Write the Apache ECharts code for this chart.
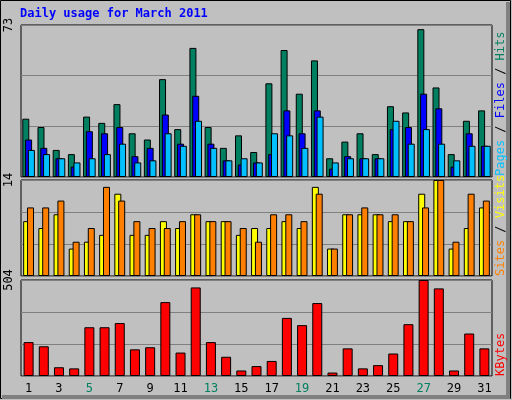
<!DOCTYPE html>
<html><head><meta charset="utf-8">
<script src="https://cdn.jsdelivr.net/npm/echarts@6/dist/echarts.min.js"></script>
<style>html,body{margin:0;padding:0;background:#c0c0c0}#c{width:512px;height:400px}</style>
</head><body><div id="c"></div>
<script>
const titleText = "Daily usage for March 2011";
const days = ["1","2","3","4","5","6","7","8","9","10","11","12","13","14","15","16","17","18","19","20","21","22","23","24","25","26","27","28","29","30","31"];
const weekendDays = ["5","6","12","13","19","20","26","27"];
const hits  = [28,24,13,11,29,26,35,21,18,47,23,62,24,14,20,12,45,61,40,56,9,17,21,11,34,31,71,43,11,27,32];
const files = [18,14,9,5,22,21,24,10,14,30,16,39,16,8,6,7,11,32,21,32,4,10,9,9,23,24,40,33,5,21,15];
const pages = [13,11,9,7,9,11,16,7,8,21,15,27,14,8,9,7,21,20,14,29,7,9,9,9,27,16,23,16,8,15,15];
const sites = [8,7,9,4,5,6,12,6,6,8,7,9,8,8,6,7,7,8,7,13,4,9,9,9,8,8,12,14,4,7,10];
const visits= [10,10,11,5,7,13,11,8,7,7,8,9,8,8,7,5,9,9,8,12,4,9,10,9,9,8,10,14,5,12,11];
const kbytes= [178,156,46,40,256,256,278,140,151,388,123,465,178,101,29,52,79,305,267,383,18,145,40,57,118,272,504,460,29,223,145];
const topMax = 73, midMax = 14, botMax = 504;

const C = {hits:'#008060',files:'#0000ff',pages:'#00c0ff',sites:'#ffff00',visits:'#ff8000',kb:'#ff0000'};
const mono = "DejaVu Sans Mono";
const ch = echarts.init(document.getElementById('c'));
const grids = [
  {left:21,right:20,top:25,height:152},
  {left:21,right:20,top:180,height:96},
  {left:21,right:20,top:280,height:96}
].map(g=>Object.assign(g,{show:true,backgroundColor:'#c0c0c0',borderColor:'#000',borderWidth:1}));
function xa(i,show){return {type:'category',gridIndex:i,data:days,axisTick:{show:false},axisLine:{show:false},
  axisLabel:{show:show,fontFamily:mono,fontSize:12,margin:7,
    color:v=>weekendDays.includes(v)?'#008060':'#000'}};}
function ya(i,max){return {type:'value',gridIndex:i,min:0,max:max,interval:max/3,
  axisLine:{show:false},axisTick:{show:false},
  splitLine:{lineStyle:{color:'#808080',width:1}},
  axisLabel:{fontFamily:mono,fontSize:12,rotate:90,margin:6,color:'#000',
    formatter:v=>Math.abs(v-max)<1e-6?String(max):''}};}
const bs = {borderColor:'#000',borderWidth:1};
function bar(name,data,i,color,w,gap){return {name,type:'bar',xAxisIndex:i,yAxisIndex:i,data,barWidth:w,barGap:gap,
  itemStyle:Object.assign({color},bs),animation:false};}
function vtext(parts,y){
  return {type:'text',left:496,top:y,rotation:-Math.PI/2,
    style:{text:parts.map((p,k)=>'{c'+k+'|'+p[0]+'}').join('{s| / }'),
      rich:Object.assign({s:{fill:'#000',font:'bold 12px '+mono}},...parts.map((p,k)=>({['c'+k]:{fill:p[1],font:'bold 12px '+mono}}))),
      font:'bold 12px '+mono}};
}
ch.setOption({
  animation:false,
  grid:grids,
  xAxis:[xa(0,false),xa(1,false),xa(2,true)],
  yAxis:[ya(0,topMax),ya(1,midMax),ya(2,botMax)],
  series:[
    bar('Hits',hits,0,C.hits,7,'-60%'),
    bar('Files',files,0,C.files,7,'-60%'),
    bar('Pages',pages,0,C.pages,7,'-60%'),
    bar('Sites',sites,1,C.sites,7,'-45%'),
    bar('Visits',visits,1,C.visits,7,'-45%'),
    bar('KBytes',kbytes,2,C.kb,10,'0%')
  ],
  graphic:[
    {type:'rect',shape:{x:0.5,y:0.5,width:510,height:398},style:{fill:'none',stroke:'#000',lineWidth:1}},
    {type:'polyline',shape:{points:[[508,2],[508,397],[2,397]]},style:{stroke:'#808080',lineWidth:4,fill:'none'}},
    {type:'text',left:20,top:8,style:{text:titleText,fill:'#0000ff',font:'bold 12px '+mono}},
    {type:'group',left:493,top:25,children:[{type:'text',rotation:Math.PI/2,x:18,y:0,
      style:{text:'{a|Pages}{s| / }{b|Files}{s| / }{c|Hits}',font:'bold 12px '+mono,rich:{a:{fill:C.pages,font:'bold 12px '+mono},b:{fill:C.files,font:'bold 12px '+mono},c:{fill:C.hits,font:'bold 12px '+mono},s:{fill:'#000',font:'bold 12px '+mono}}}}]}
  ]
});
// right vertical legends (reading bottom to top)
function rlabel(parts,bottomY){
  const rich={s:{fill:'#000',font:'12px '+mono}};
  parts.forEach((p,k)=>rich['c'+k]={fill:p[1],font:'12px '+mono});
  return {type:'text',x:495,y:bottomY,rotation:Math.PI/2,
    style:{text:parts.map((p,k)=>'{c'+k+'|'+p[0]+'}').join('{s| / }'),rich,textVerticalAlign:'top'}};
}
ch.setOption({graphic:[
  {type:'rect',shape:{x:0.5,y:0.5,width:510,height:398},style:{fill:'none',stroke:'#000',lineWidth:1}},
  {type:'polyline',shape:{points:[[508,2],[508,397],[2,397]]},style:{stroke:'#808080',lineWidth:4,fill:'none'}},
  {type:'text',left:20,top:8,style:{text:titleText,fill:'#0000ff',font:'bold 12px '+mono}},
  rlabel([['Pages',C.pages],['Files',C.files],['Hits',C.hits]],176),
  rlabel([['Sites',C.visits],['Visits',C.sites]],276),
  rlabel([['KBytes',C.kb]],376)
]},{replaceMerge:['graphic']});
</script></body></html>
